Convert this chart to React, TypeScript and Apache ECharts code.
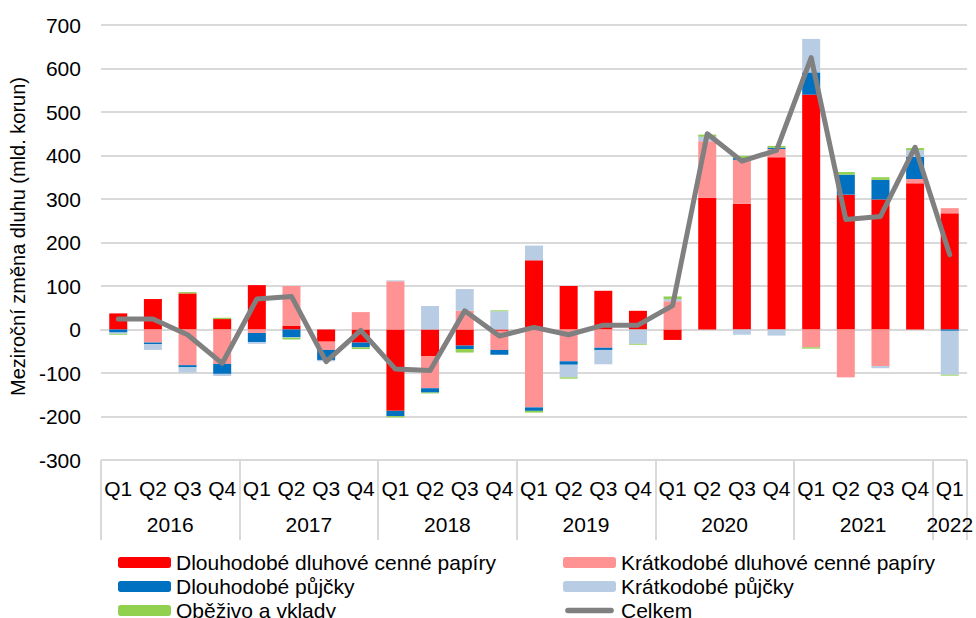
import React, { useEffect, useRef } from "react";
import * as echarts from "echarts";

const quarters = [
  "Q1", "Q2", "Q3", "Q4", "Q1", "Q2", "Q3", "Q4", "Q1", "Q2", "Q3", "Q4",
  "Q1", "Q2", "Q3", "Q4", "Q1", "Q2", "Q3", "Q4", "Q1", "Q2", "Q3", "Q4", "Q1",
];
const years = ["2016", "2017", "2018", "2019", "2020", "2021", "2022"];
const yearQuarterCounts = [4, 4, 4, 4, 4, 4, 1];

const dlouhodobeCP = [37, 70, 83, 24, 102, 9, -28, -30, -187, -61, -37, -3, 159, 100, 89, 43, -24, 303, 289, 396, 540, 310, 299, 336, 267];
const kratkodobeCP = [0, -30, -82, -79, -8, 91, -19, 40, 111, -74, 43, -44, -179, -73, -42, 0, 65, 130, 101, 19, -41, -110, -84, 10, 12];
const dlouhodobePujcky = [-7, -4, -5, -23, -21, -18, -23, -11, -12, -10, -8, -11, -8, -8, -5, 0, 0, 0, 4, 3, 51, 46, 45, 51, -3];
const kratkodobePujcky = [-3, -13, -12, -5, -4, -1, -3, 0, 2, 54, 50, 42, 34, -29, -33, -33, 5, 10, -12, -14, 77, 0, -5, 15, -101];
const obezivo = [-2, 0, 3, 3, 0, -4, 0, -4, -3, -2, -8, 2, -4, -3, 0, -2, 6, 5, 5, 4, -3, 6, 6, 5, -2];
const celkem = [24, 24, -12, -78, 70, 76, -74, -2, -91, -94, 43, -15, 5, -12, 10, 10, 55, 450, 387, 412, 625, 253, 260, 419, 172];

const FONT = "'Liberation Sans', Arial, sans-serif";
const FS = 21;
const LINE_ICON =
  "path://M0,0M53,12M3,3L50,3A3,3,0,0,1,50,9L3,9A3,3,0,0,1,3,3Z";

export default function App() {
  const ref = useRef<HTMLDivElement>(null);
  useEffect(() => {
    if (!ref.current) return;
    const chart = echarts.init(ref.current, undefined, { renderer: "svg" });

    const n = quarters.length;
    const yearAxisData: string[] = new Array(2 * n + 1).fill("");
    const boundaries = new Set<number>();
    let start = 0;
    boundaries.add(0);
    years.forEach((y, i) => {
      const c = yearQuarterCounts[i];
      yearAxisData[start * 2 + c] = y;
      start += c;
      boundaries.add(start * 2);
    });

    const barBase = {
      type: "bar" as const,
      stack: "total",
      barWidth: 18,
      xAxisIndex: 0,
    };

    const legendBase = {
      orient: "vertical" as const,
      top: 552,
      height: 75,
      padding: 0,
      itemWidth: 53,
      itemHeight: 11,
      itemGap: 3,
      textStyle: { fontSize: FS, color: "#000", lineHeight: 21, fontFamily: FONT },
    };

    chart.setOption({
      animation: false,
      textStyle: { fontFamily: FONT },
      grid: { left: 95, right: 7, top: 25, bottom: 158 },
      xAxis: [
        {
          type: "category",
          data: quarters,
          position: "bottom",
          axisLine: { show: true, lineStyle: { color: "#d9d9d9", width: 2 } },
          axisTick: { show: false },
          axisLabel: { interval: 0, fontSize: FS, color: "#000", margin: 18, fontFamily: FONT },
        },
        {
          type: "category",
          data: yearAxisData,
          boundaryGap: false,
          position: "bottom",
          axisLine: { show: false },
          axisTick: {
            show: true,
            length: 80,
            interval: (idx: number) => boundaries.has(idx),
            lineStyle: { color: "#d9d9d9", width: 2 },
          },
          axisLabel: { interval: 0, fontSize: FS, color: "#000", margin: 54, fontFamily: FONT },
        },
      ],
      yAxis: {
        type: "value",
        min: -300,
        max: 700,
        interval: 100,
        name: "Meziroční změna dluhu (mld. korun)",
        nameLocation: "middle",
        nameGap: 61,
        nameRotate: 90,
        nameTextStyle: { fontSize: 20, color: "#000", fontFamily: FONT, padding: [0, 0, 0, 12] },
        axisLine: { show: false },
        axisTick: { show: false },
        axisLabel: { fontSize: FS, color: "#000", margin: 20, fontFamily: FONT },
        splitLine: { lineStyle: { color: "#d9d9d9", width: 2 } },
      },
      legend: [
        {
          ...legendBase,
          left: 118,
          data: ["Dlouhodobé dluhové cenné papíry", "Dlouhodobé půjčky", "Oběživo a vklady"],
        },
        {
          ...legendBase,
          left: 563,
          data: [
            "Krátkodobé dluhové cenné papíry",
            "Krátkodobé půjčky",
            { name: "Celkem", icon: LINE_ICON },
          ],
        },
      ],
      series: [
        { ...barBase, name: "Dlouhodobé dluhové cenné papíry", data: dlouhodobeCP, itemStyle: { color: "#ff0000" } },
        { ...barBase, name: "Krátkodobé dluhové cenné papíry", data: kratkodobeCP, itemStyle: { color: "#ff9393" } },
        { ...barBase, name: "Dlouhodobé půjčky", data: dlouhodobePujcky, itemStyle: { color: "#0070c0" } },
        { ...barBase, name: "Krátkodobé půjčky", data: kratkodobePujcky, itemStyle: { color: "#b8cce4" } },
        { ...barBase, name: "Oběživo a vklady", data: obezivo, itemStyle: { color: "#92d050" } },
        {
          type: "line",
          name: "Celkem",
          data: celkem,
          xAxisIndex: 0,
          symbol: "none",
          z: 5,
          itemStyle: { color: "#808080" },
          lineStyle: { color: "#808080", width: 5, join: "round", cap: "round" },
        },
      ],
    });
    return () => chart.dispose();
  }, []);

  return (
    <div
      ref={ref}
      style={{ position: "fixed", left: 0, top: 0, width: 976, height: 618, background: "#fff" }}
    />
  );
}
